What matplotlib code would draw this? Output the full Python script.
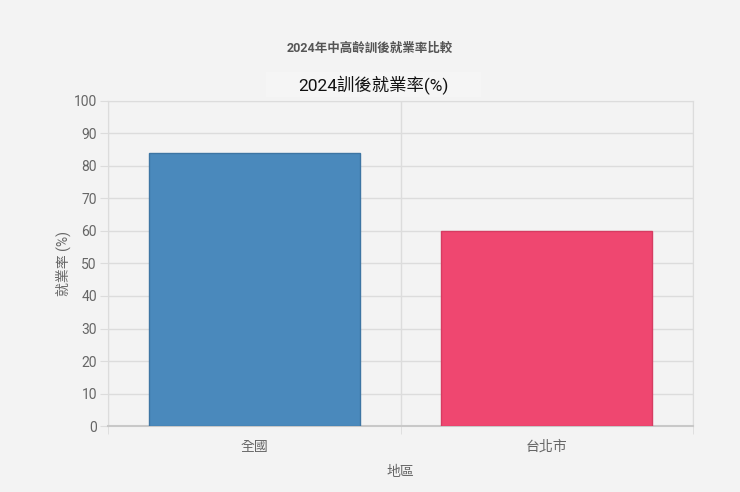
import matplotlib.pyplot as plt
from matplotlib.patches import FancyBboxPatch

# === DATA ===
regions = ["全國", "台北市"]
rates = [84, 60]
bar_colors = ["#4a89bc", "#ef4770"]
edge_colors = ["#3d75a3", "#d63c62"]
y_ticks = list(range(0, 101, 10))

plt.rcParams["font.family"] = ["Roboto", "Noto Sans CJK TC", "DejaVu Sans"]

BG = "#f3f3f3"
GRID = "#dcdcdc"
TXT = "#666666"

fig = plt.figure(figsize=(7.4, 4.92), dpi=100)
fig.patch.set_facecolor(BG)
ax = fig.add_axes([0.146, 0.134, 0.7905, 0.661])
ax.set_facecolor(BG)

x = list(range(len(regions)))
ax.bar(x, rates, width=0.72, color=bar_colors, edgecolor=edge_colors, linewidth=1, zorder=3)

ax.set_xlim(-0.5, len(regions) - 0.5)
ax.set_ylim(0, 100)
ax.set_yticks(y_ticks)
ax.set_xticks(x)
ax.set_xticklabels(regions)
ax.set_xticks([i - 0.5 for i in range(len(regions) + 1)], minor=True)

ax.tick_params(axis="y", length=6, color=GRID, labelcolor=TXT, labelsize=10, pad=2)
ax.tick_params(axis="x", which="major", length=0, labelcolor=TXT, labelsize=10, pad=10)
ax.tick_params(axis="x", which="minor", length=6, color=GRID)

ax.grid(axis="y", color=GRID, linewidth=1, zorder=0)
ax.grid(axis="x", which="minor", color=GRID, linewidth=1, zorder=0)
for side in ["top", "right", "left"]:
    ax.spines[side].set_color(GRID)
ax.spines["bottom"].set_color("#c8c8c8")
ax.spines["bottom"].set_linewidth(1.5)

ax.set_xlabel("地區", color=TXT, fontsize=10, labelpad=8)
ax.set_ylabel("就業率 (%)", color=TXT, fontsize=10, labelpad=2)

# titles
fig.text(0.5, 0.902, "2024年中高齡訓後就業率比較", ha="center", va="center",
         fontsize=9, fontweight="bold", color="#555555")
box = FancyBboxPatch((0.36, 0.803), 0.29, 0.05, boxstyle="square,pad=0",
                     transform=fig.transFigure, facecolor="#f5f5f5", edgecolor="none")
fig.patches.append(box)
fig.text(0.505, 0.827, "2024訓後就業率(%)", ha="center", va="center",
         fontsize=12.5, color="#111111")

plt.savefig("out.png", dpi=100, facecolor=BG)
